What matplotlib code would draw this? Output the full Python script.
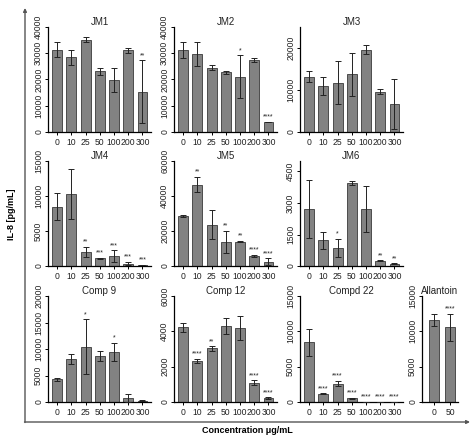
#!/usr/bin/env python3
"""IL-8 response panels, bar charts with error bars and significance stars."""

import matplotlib
matplotlib.use('Agg')
import matplotlib.pyplot as plt

plt.rcParams['font.family'] = ['Liberation Sans', 'DejaVu Sans']

conc = ['0', '10', '25', '50', '100', '200', '300']
allantoin_conc = ['0', '50']

jm1_mean = [31400, 28400, 35200, 23100, 19700, 31100, 15400]
jm1_err = [3000, 3000, 1000, 1200, 4500, 900, 12000]
jm1_sig = ['', '', '', '', '', '', '**']

jm2_mean = [31200, 29800, 24500, 22700, 21000, 27400, 3900]
jm2_err = [3000, 4500, 1000, 500, 8200, 900, 0]
jm2_sig = ['', '', '', '', '*', '', '****']

jm3_mean = [13200, 11000, 11700, 13700, 19600, 9600, 6700]
jm3_err = [1400, 2100, 5100, 5100, 1100, 600, 5900]
jm3_sig = ['', '', '', '', '', '', '']

jm4_mean = [8500, 10300, 2000, 1100, 1430, 330, 140]
jm4_err = [1900, 3600, 750, 100, 800, 250, 50]
jm4_sig = ['', '', '**', '***', '***', '***', '***']

jm5_mean = [28600, 46500, 23600, 13700, 13900, 5900, 2500]
jm5_err = [500, 4400, 8400, 6300, 400, 500, 2000]
jm5_sig = ['', '**', '', '**', '**', '****', '****']

jm6_mean = [2710, 1220, 870, 3950, 2710, 250, 110]
jm6_err = [1400, 400, 430, 100, 1080, 30, 30]
jm6_sig = ['', '', '*', '', '', '**', '**']

comp9_mean = [4300, 8100, 10400, 8700, 9500, 820, 250]
comp9_err = [300, 900, 5200, 950, 1700, 760, 60]
comp9_sig = ['', '', '*', '', '*', '', '']

comp12_mean = [4220, 2330, 3030, 4300, 4170, 1100, 230]
comp12_err = [270, 110, 130, 430, 680, 130, 40]
comp12_sig = ['', '****', '**', '', '', '****', '****']

compd22_mean = [8430, 1180, 2600, 520, 30, 30, 30]
compd22_err = [1900, 80, 400, 100, 0, 0, 0]
compd22_sig = ['', '****', '****', '****', '****', '****', '****']

allantoin_mean = [11600, 10600]
allantoin_err = [850, 1900]
allantoin_sig = ['', '****']

W, H = 474, 436


def px_axes(fig, x0, y_top, x1, y_bot):
    return fig.add_axes([x0 / W, 1 - y_bot / H, (x1 - x0) / W, (y_bot - y_top) / H])


def panel(ax, title, labels, mean, err, sig, ymax, ticks, xlim, width=0.7):
    x = range(len(labels))
    ax.bar(x, mean, width=width, color='#828282', edgecolor='#3a3a3a', linewidth=0.6, zorder=2)
    ax.errorbar(x, mean, yerr=err, fmt='none', ecolor='#222222', elinewidth=0.7,
                capsize=2.2, capthick=0.7, zorder=3)
    for xi, m, e, s in zip(x, mean, err, sig):
        if s:
            ax.annotate(s, (xi, m + e), xytext=(0, 0.8), textcoords='offset points',
                        ha='center', va='bottom', fontsize=5, color='#222222')
    ax.set_xticks(list(x))
    ax.set_xticklabels(labels)
    ax.set_xlim(*xlim)
    ax.set_ylim(0, ymax)
    ax.set_yticks(ticks)
    ax.set_yticklabels([str(t) for t in ticks], rotation=90, va='center')
    ax.tick_params(axis='both', labelsize=6.2, length=2, width=0.7, pad=1.5,
                   labelcolor='#222222')
    ax.tick_params(axis='x', pad=2)
    for side in ['top', 'right']:
        ax.spines[side].set_visible(False)
    for side in ['left', 'bottom']:
        ax.spines[side].set_linewidth(0.9)
    ax.set_title(title, fontsize=7, pad=1.5, color='#222222')


fig = plt.figure(figsize=(W / 100, H / 100), dpi=100)

# big L-shaped frame with arrows
bg = fig.add_axes([0, 0, 1, 1])
bg.set_xlim(0, W)
bg.set_ylim(H, 0)
bg.axis('off')
arrow = dict(arrowstyle='-|>', color='#555555', lw=1.0, mutation_scale=5, shrinkA=0, shrinkB=0)
bg.annotate('', xy=(25, 8), xytext=(25, 422.5), arrowprops=arrow)
bg.annotate('', xy=(470, 422), xytext=(24.5, 422), arrowprops=arrow)
bg.text(12, 214, 'IL-8 [pg/mL]', rotation=90, ha='center', va='center',
        fontsize=6.5, fontweight='bold')
bg.text(247, 430, 'Concentration μg/mL', ha='center', va='center',
        fontsize=6.5, fontweight='bold')

xl = (-0.65, 6.6)
rows = [(27, 132), (161, 266), (296, 402)]
cols = [(48, 151), (174, 277), (300, 403)]

ax = px_axes(fig, cols[0][0], rows[0][0], cols[0][1], rows[0][1])
panel(ax, 'JM1', conc, jm1_mean, jm1_err, jm1_sig, 40000, [0, 10000, 20000, 30000, 40000], xl)
ax = px_axes(fig, cols[1][0], rows[0][0], cols[1][1], rows[0][1])
panel(ax, 'JM2', conc, jm2_mean, jm2_err, jm2_sig, 40000, [0, 10000, 20000, 30000, 40000], xl)
ax = px_axes(fig, cols[2][0], rows[0][0], cols[2][1], rows[0][1])
panel(ax, 'JM3', conc, jm3_mean, jm3_err, jm3_sig, 25000, [0, 10000, 20000], xl)

ax = px_axes(fig, cols[0][0], rows[1][0], cols[0][1], rows[1][1])
panel(ax, 'JM4', conc, jm4_mean, jm4_err, jm4_sig, 15000, [0, 5000, 10000, 15000], xl)
ax = px_axes(fig, cols[1][0], rows[1][0], cols[1][1], rows[1][1])
panel(ax, 'JM5', conc, jm5_mean, jm5_err, jm5_sig, 60000, [0, 20000, 40000, 60000], xl)
ax = px_axes(fig, cols[2][0], rows[1][0], cols[2][1], rows[1][1])
panel(ax, 'JM6', conc, jm6_mean, jm6_err, jm6_sig, 5000, [0, 1500, 3000, 4500], xl)

ax = px_axes(fig, cols[0][0], rows[2][0], cols[0][1], rows[2][1])
panel(ax, 'Comp 9', conc, comp9_mean, comp9_err, comp9_sig, 20000, [0, 5000, 10000, 15000, 20000], xl)
ax = px_axes(fig, cols[1][0], rows[2][0], cols[1][1], rows[2][1])
panel(ax, 'Comp 12', conc, comp12_mean, comp12_err, comp12_sig, 6000, [0, 2000, 4000, 6000], xl)
ax = px_axes(fig, cols[2][0], rows[2][0], cols[2][1], rows[2][1])
panel(ax, 'Compd 22', conc, compd22_mean, compd22_err, compd22_sig, 15000, [0, 5000, 10000, 15000], xl)
ax = px_axes(fig, 422, rows[2][0], 458, rows[2][1])
panel(ax, 'Allantoin', allantoin_conc, allantoin_mean, allantoin_err, allantoin_sig,
      15000, [0, 5000, 10000, 15000], (-0.75, 1.5), width=0.63)

fig.savefig('out.png', dpi=100)
